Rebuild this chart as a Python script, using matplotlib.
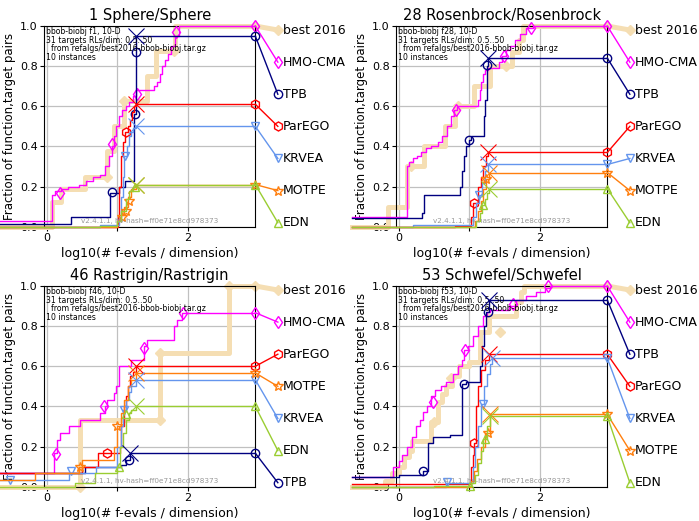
import numpy as np
import matplotlib
matplotlib.use('Agg')
import matplotlib.pyplot as plt

# ECDF of runtimes, bbob-biobj 10-D, four functions
# x: log10(# f-evals / dimension), y: fraction of (function, target) pairs

algs = ['best 2016', 'HMO-CMA', 'TPB', 'ParEGO', 'KRVEA', 'MOTPE', 'EDN']
titles = ['1 Sphere/Sphere', '28 Rosenbrock/Rosenbrock',
          '46 Rastrigin/Rastrigin', '53 Schwefel/Schwefel']
fids = [1, 28, 46, 53]

# ---- f1 Sphere/Sphere ----
f1_best_x = [-0.66, 0.07, 0.2, 0.54, 0.85, 0.95, 1.09, 1.42, 1.55, 1.82]
f1_best_y = [0.0, 0.125, 0.19, 0.25, 0.375, 0.5, 0.625, 0.75, 0.875, 1.0]
f1_best_mx = [0.86, 1.09, 1.8]
f1_best_my = [0.25, 0.625, 0.875]
f1_hmo_x = [-0.66, 0.07, 0.12, 0.2, 0.3, 0.45, 0.55, 0.65, 0.75, 0.83, 0.88, 0.92, 0.95, 0.98,
            1.02, 1.07, 1.12, 1.17, 1.22, 1.27, 1.52, 1.56, 1.6, 1.64, 1.68, 1.72, 1.77, 1.82, 1.88]
f1_hmo_y = [0.03, 0.16, 0.18, 0.19, 0.2, 0.21, 0.23, 0.25, 0.26, 0.3, 0.35, 0.4, 0.45, 0.5,
            0.55, 0.58, 0.6, 0.62, 0.65, 0.68, 0.7, 0.72, 0.76, 0.8, 0.83, 0.86, 0.9, 0.95, 1.0]
f1_hmo_mx = [0.19, 0.93, 1.28, 1.84]
f1_hmo_my = [0.17, 0.41, 0.66, 0.97]
f1_tpb_x = [-0.66, 0.35, 0.9, 1.02, 1.11, 1.24, 1.26, 1.27]
f1_tpb_y = [0.015, 0.05, 0.17, 0.2, 0.23, 0.56, 0.87, 0.95]
f1_tpb_mx = [0.92, 1.25, 1.265]
f1_tpb_my = [0.175, 0.56, 0.87]
f1_parego_x = [-0.66, 1.01, 1.03, 1.05, 1.08, 1.11, 1.15, 1.18, 1.21, 1.24, 1.27]
f1_parego_y = [0.0, 0.05, 0.2, 0.35, 0.42, 0.47, 0.5, 0.53, 0.57, 0.6, 0.61]
f1_parego_mx = [1.13]
f1_parego_my = [0.47]
f1_krvea_x = [-0.66, 0.76, 1.03, 1.06, 1.08, 1.1, 1.14, 1.17, 1.2, 1.23, 1.27]
f1_krvea_y = [0.0, 0.01, 0.05, 0.15, 0.25, 0.35, 0.4, 0.45, 0.47, 0.49, 0.5]
f1_krvea_mx = [1.11]
f1_krvea_my = [0.35]
f1_motpe_x = [-0.66, 1.0, 1.05, 1.1, 1.15, 1.2, 1.27]
f1_motpe_y = [0.0, 0.03, 0.06, 0.1, 0.15, 0.19, 0.21]
f1_motpe_mx = [1.07, 1.12, 1.17]
f1_motpe_my = [0.05, 0.08, 0.13]
f1_edn_x = [-0.66, 0.76, 1.0, 1.06, 1.12, 1.17, 1.22, 1.27]
f1_edn_y = [0.0, 0.005, 0.03, 0.08, 0.14, 0.18, 0.2, 0.21]
f1_edn_mx = [1.25]
f1_edn_my = [0.2]

# ---- f28 Rosenbrock/Rosenbrock ----
f28_best_x = [-0.66, -0.16, 0.12, 0.36, 0.65, 0.8, 1.07, 1.29, 1.6, 1.7, 1.77]
f28_best_y = [0.0, 0.1, 0.3, 0.4, 0.5, 0.6, 0.7, 0.8, 0.87, 0.93, 1.0]
f28_best_mx = [0.17, 0.84, 1.52]
f28_best_my = [0.3, 0.6, 0.8]
f28_hmo_x = [-0.66, 0.12, 0.15, 0.2, 0.26, 0.32, 0.38, 0.45, 0.55, 0.62, 0.68, 0.74, 0.79, 0.83,
             1.13, 1.15, 1.17, 1.2, 1.23, 1.27, 1.42, 1.46, 1.52, 1.58, 1.65, 1.72, 1.8, 1.9]
f28_hmo_y = [0.05, 0.3, 0.32, 0.34, 0.35, 0.37, 0.39, 0.4, 0.42, 0.45, 0.5, 0.55, 0.58, 0.6,
             0.63, 0.68, 0.72, 0.76, 0.78, 0.79, 0.82, 0.85, 0.88, 0.9, 0.93, 0.96, 0.99, 1.0]
f28_hmo_mx = [0.81, 1.5, 1.88]
f28_hmo_my = [0.58, 0.85, 0.99]
f28_tpb_x = [-0.66, 0.33, 0.36, 0.87, 0.9, 0.93, 0.96, 0.99, 1.02, 1.21, 1.23, 1.25, 1.27]
f28_tpb_y = [0.045, 0.07, 0.16, 0.2, 0.28, 0.35, 0.4, 0.43, 0.45, 0.55, 0.63, 0.8, 0.84]
f28_tpb_mx = [1.0, 1.255]
f28_tpb_my = [0.43, 0.805]
f28_parego_x = [-0.66, 0.8, 1.03, 1.06, 1.12, 1.16, 1.2, 1.24, 1.27]
f28_parego_y = [0.0, 0.005, 0.05, 0.12, 0.2, 0.25, 0.3, 0.35, 0.37]
f28_parego_mx = [1.07]
f28_parego_my = [0.12]
f28_krvea_x = [-0.66, 0.2, 1.05, 1.1, 1.14, 1.18, 1.22, 1.27]
f28_krvea_y = [0.0, 0.01, 0.05, 0.12, 0.16, 0.22, 0.28, 0.31]
f28_krvea_mx = [1.14]
f28_krvea_my = [0.16]
f28_motpe_x = [-0.66, 1.08, 1.12, 1.16, 1.2, 1.24, 1.28]
f28_motpe_y = [0.0, 0.03, 0.08, 0.13, 0.19, 0.24, 0.27]
f28_motpe_mx = [1.24]
f28_motpe_my = [0.24]
f28_edn_x = [-0.66, 1.1, 1.15, 1.18, 1.22, 1.25, 1.28]
f28_edn_y = [0.0, 0.03, 0.07, 0.11, 0.14, 0.17, 0.19]
f28_edn_mx = [1.19]
f28_edn_my = [0.11]

# ---- f46 Rastrigin/Rastrigin ----
f46_best_x = [-0.66, 0.47, 1.6, 2.58]
f46_best_y = [0.0, 0.333, 0.667, 1.0]
f46_best_mx = [0.47, 1.6, 1.6, 2.58]
f46_best_my = [0.0, 0.333, 0.667, 1.0]
f46_hmo_x = [-0.66, 0.1, 0.14, 0.19, 0.31, 0.47, 0.76, 0.82, 0.85, 0.95, 0.98, 1.02, 1.2, 1.38,
             1.42, 1.8, 1.85, 1.92]
f46_hmo_y = [0.067, 0.167, 0.233, 0.267, 0.3, 0.333, 0.367, 0.4, 0.433, 0.467, 0.5, 0.6, 0.633,
             0.7, 0.733, 0.8, 0.833, 0.867]
f46_hmo_mx = [0.13, 0.81, 1.385, 1.93]
f46_hmo_my = [0.163, 0.4, 0.69, 0.867]
f46_tpb_x = [-0.66, 0.54, 1.05, 1.13, 1.18]
f46_tpb_y = [0.067, 0.1, 0.11, 0.133, 0.167]
f46_tpb_mx = [1.16]
f46_tpb_my = [0.133]
f46_parego_x = [-0.66, 0.5, 0.72, 1.04, 1.06, 1.09, 1.12, 1.15, 1.18, 1.22, 1.26]
f46_parego_y = [0.067, 0.1, 0.167, 0.2, 0.3, 0.4, 0.45, 0.5, 0.55, 0.57, 0.6]
f46_parego_mx = [0.85]
f46_parego_my = [0.167]
f46_krvea_x = [-0.66, 0.32, 0.7, 1.0, 1.05, 1.08, 1.12, 1.16, 1.2, 1.26]
f46_krvea_y = [0.033, 0.067, 0.1, 0.2, 0.3, 0.38, 0.43, 0.47, 0.5, 0.533]
f46_krvea_mx = [-0.52, 0.34, 1.1]
f46_krvea_my = [0.033, 0.08, 0.38]
f46_motpe_x = [-0.66, -0.17, 0.45, 0.5, 0.95, 1.0, 1.05, 1.1, 1.15, 1.2, 1.26]
f46_motpe_y = [0.033, 0.067, 0.1, 0.133, 0.2, 0.3, 0.367, 0.433, 0.5, 0.533, 0.567]
f46_motpe_mx = [0.47, 1.0]
f46_motpe_my = [0.1, 0.3]
f46_edn_x = [-0.66, 0.4, 0.69, 1.0, 1.04, 1.08, 1.12, 1.16, 1.2, 1.26]
f46_edn_y = [0.0, 0.02, 0.067, 0.1, 0.2, 0.267, 0.333, 0.367, 0.38, 0.4]
f46_edn_mx = [1.02, 1.125]
f46_edn_my = [0.1, 0.36]

# ---- f53 Schwefel/Schwefel ----
f53_best_x = [-0.66, -0.2, -0.1, 0.0, 0.07, 0.14, 0.19, 0.45, 0.55, 0.62, 0.67, 0.76, 0.85, 1.0,
              1.15, 1.28, 1.67, 1.73, 1.78]
f53_best_y = [0.0, 0.03, 0.07, 0.1, 0.15, 0.18, 0.23, 0.32, 0.42, 0.46, 0.5, 0.55, 0.6, 0.62,
              0.77, 0.85, 0.92, 0.97, 1.0]
f53_best_mx = [0.5, 0.74, 1.43]
f53_best_my = [0.32, 0.54, 0.77]
f53_hmo_x = [-0.66, -0.08, 0.0, 0.05, 0.12, 0.19, 0.24, 0.3, 0.35, 0.4, 0.45, 0.52, 0.6, 0.67,
             0.77, 0.84, 0.9, 0.93, 0.98, 1.05, 1.12, 1.2, 1.25, 1.3, 1.57, 1.67, 1.8, 1.95, 2.07, 2.15]
f53_hmo_y = [0.05, 0.1, 0.13, 0.16, 0.2, 0.25, 0.3, 0.33, 0.37, 0.4, 0.45, 0.48, 0.5, 0.52,
             0.56, 0.6, 0.63, 0.68, 0.7, 0.75, 0.8, 0.85, 0.87, 0.88, 0.9, 0.93, 0.95, 0.97, 0.99, 1.0]
f53_hmo_mx = [0.48, 0.945, 1.62, 2.12]
f53_hmo_my = [0.42, 0.68, 0.91, 1.0]
f53_tpb_x = [-0.66, 0.0, 0.35, 0.41, 0.48, 0.72, 0.9, 0.95, 1.15, 1.18, 1.21, 1.24, 1.28]
f53_tpb_y = [0.05, 0.06, 0.08, 0.22, 0.25, 0.26, 0.51, 0.52, 0.6, 0.7, 0.8, 0.87, 0.93]
f53_tpb_mx = [0.34, 0.93, 1.26]
f53_tpb_my = [0.08, 0.51, 0.87]
f53_parego_x = [-0.66, 1.03, 1.05, 1.07, 1.1, 1.13, 1.17, 1.22, 1.28]
f53_parego_y = [0.015, 0.1, 0.16, 0.22, 0.4, 0.5, 0.58, 0.63, 0.66]
f53_parego_mx = [1.07]
f53_parego_my = [0.216]
f53_krvea_x = [-0.66, 0.67, 1.05, 1.08, 1.12, 1.17, 1.21, 1.25, 1.29, 1.33]
f53_krvea_y = [0.0, 0.02, 0.1, 0.2, 0.3, 0.41, 0.5, 0.56, 0.61, 0.64]
f53_krvea_mx = [0.69, 1.19]
f53_krvea_my = [0.025, 0.41]
f53_motpe_x = [-0.66, 1.03, 1.07, 1.11, 1.16, 1.22, 1.29]
f53_motpe_y = [0.0, 0.03, 0.08, 0.14, 0.2, 0.27, 0.36]
f53_motpe_mx = [1.26]
f53_motpe_my = [0.27]
f53_edn_x = [-0.66, 0.5, 1.03, 1.08, 1.12, 1.16, 1.2, 1.25, 1.29]
f53_edn_y = [0.0, 0.005, 0.02, 0.06, 0.12, 0.18, 0.24, 0.3, 0.35]
f53_edn_mx = [1.01, 1.22]
f53_edn_my = [0.005, 0.24]

g = globals()
keys = ['best', 'hmo', 'tpb', 'parego', 'krvea', 'motpe', 'edn']

colors = ['wheat', 'magenta', 'navy', 'red', 'cornflowerblue', '#ff7f0e', 'yellowgreen']
marks = ['D', 'd', 'o', 'h', 'v', '*', '^']
msizes = [5, 6, 6, 6.5, 6, 7, 6]

xmin, xmax = -0.04, 2.96
xleg = 3.28

fig = plt.figure(figsize=(6.99, 5.21), dpi=100)
W, H = 699., 521.
boxes = [(44, 26), (396, 26), (44, 286), (396, 286)]

for p in range(4):
    left, top = boxes[p]
    ax = fig.add_axes([left / W, 1 - (top + 200.7) / H, 211.3 / W, 200.7 / H])
    fid = fids[p]
    curves = []
    for k in keys:
        curves.append((g['f%d_%s_x' % (fid, k)], g['f%d_%s_y' % (fid, k)],
                       g['f%d_%s_mx' % (fid, k)], g['f%d_%s_my' % (fid, k)]))

    finals = [c[1][-1] for c in curves]
    order = sorted(range(len(algs)), key=lambda i: -finals[i])
    legy = np.linspace(0.98, 0.02, len(algs))
    ly = {i: legy[r] for r, i in enumerate(order)}

    for i, (xs, ys, mx, my) in enumerate(curves):
        best = (i == 0)
        c = colors[i]
        lw = 3.6 if best else 1.0
        mfc = c if best else 'none'
        z = 2 if best else 3
        xx = list(xs) + [xmax]
        yy = list(ys) + [ys[-1]]
        ax.plot(xx, yy, drawstyle='steps-post', color=c, lw=lw, clip_on=False, zorder=z)
        ax.plot(list(mx) + [xmax], list(my) + [ys[-1]], ls='none', marker=marks[i],
                ms=msizes[i], mfc=mfc, mec=c, mew=1, clip_on=False, zorder=z)
        # connection to the label on the right
        ax.plot([xmax, xleg], [ys[-1], ly[i]], color=c, lw=lw, marker=marks[i],
                markevery=[1], ms=msizes[i], mfc=mfc, mec=c, mew=1, clip_on=False, zorder=z)
        ax.annotate(algs[i], (xleg, ly[i]), xytext=(3.5, 0), textcoords='offset points',
                    va='center', ha='left', fontsize=9, annotation_clip=False)
        if i >= 2:
            # budget marker (end of the runs)
            ax.plot([xs[-1]], [ys[-1]], ls='none', marker='x', ms=12, mew=0.8, color=c,
                    clip_on=False, zorder=4)

    ax.set_xlim(xmin, xmax)
    ax.set_ylim(0, 1)
    ax.set_xticks([0, 1, 2])
    ax.set_xticklabels(['0', '', '2'])
    ax.set_yticks([0, 0.2, 0.4, 0.6, 0.8, 1.0])
    ax.set_yticklabels(['0.0', '0.2', '0.4', '0.6', '0.8', '1.0'])
    ax.tick_params(labelsize=8, length=3, pad=1.5)
    ax.grid(True, color='#c0c0c0', lw=0.9)
    ax.set_title(titles[p], fontsize=10.5, pad=4)
    ax.set_xlabel('log10(# f-evals / dimension)', fontsize=9, labelpad=3)
    ax.set_ylabel('Fraction of function,target pairs', fontsize=8.5, labelpad=3)
    ax.text(0.01, 0.995, 'bbob-biobj f%d, 10-D\n31 targets RLs/dim: 0.5..50\n'
            '  from refalgs/best2016-bbob-biobj.tar.gz\n10 instances' % fid,
            transform=ax.transAxes, va='top', ha='left', fontsize=5.6, linespacing=0.95)
    ax.text(0.5, 0.015, 'v2.4.1.1, hv-hash=ff0e71e8cd978373', transform=ax.transAxes,
            ha='center', va='bottom', fontsize=5.2, color='#999999')

fig.savefig('out.png', dpi=100)
